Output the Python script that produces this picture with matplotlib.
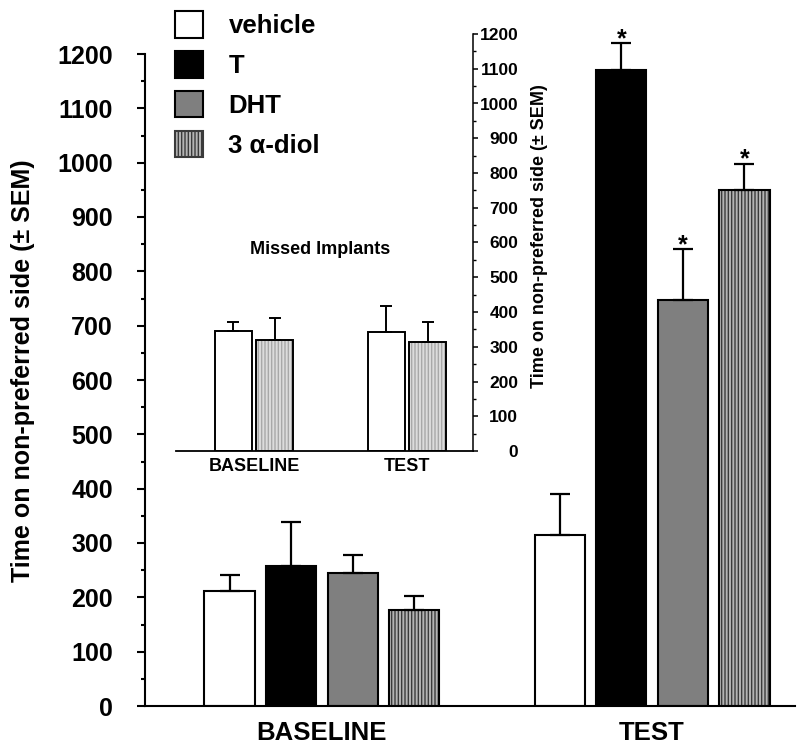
import numpy as np
import matplotlib
matplotlib.use('Agg')
import matplotlib.pyplot as plt
from matplotlib.patches import Patch
from matplotlib.ticker import MultipleLocator

plt.rcParams['font.family'] = ['Liberation Sans', 'DejaVu Sans']
plt.rcParams['font.weight'] = 'bold'
plt.rcParams['axes.labelweight'] = 'bold'
plt.rcParams['axes.titleweight'] = 'bold'
plt.rcParams['hatch.linewidth'] = 1.0

# data: main panel (hippocampal implants)
groups = ['BASELINE', 'TEST']
treatments = ['vehicle', 'T', 'DHT', '3 α-diol']
means = {'vehicle': [212, 315],
         'T': [258, 1170],
         'DHT': [244, 747],
         '3 α-diol': [176, 950]}
sems = {'vehicle': [30, 75],
        'T': [80, 50],
        'DHT': [34, 94],
        '3 α-diol': [27, 48]}
signif = {'vehicle': [False, False],
          'T': [False, True],
          'DHT': [False, True],
          '3 α-diol': [False, True]}

# data: inset (missed implants)
inset_treatments = ['vehicle', '3 α-diol']
inset_means = {'vehicle': [346, 342], '3 α-diol': [320, 314]}
inset_sems = {'vehicle': [25, 75], '3 α-diol': [63, 57]}

ylabel = 'Time on non-preferred side (± SEM)'

# styles
face = {'vehicle': 'white', 'T': 'black', 'DHT': '#7f7f7f', '3 α-diol': '#b4b4b4'}
hatchcol = {'3 α-diol': '#3a3a3a'}

fig = plt.figure(figsize=(8, 7.53), dpi=100)
W, H = 800., 753.

### main axes
ax = fig.add_axes([145/W, (H-706)/H, 650/W, 652/H])
ax.set_xlim(-0.536, 1.433)
ax.set_ylim(0, 1200)
x = np.arange(len(groups))
offsets = [-0.28, -0.093, 0.093, 0.28]
width = 0.152

for off, tr in zip(offsets, treatments):
    xs = x + off
    if tr in hatchcol:
        ax.bar(xs, means[tr], width, color=face[tr], edgecolor=hatchcol[tr],
               hatch='|||||', linewidth=0, zorder=2)
        ax.bar(xs, means[tr], width, fill=False, edgecolor='black',
               linewidth=1.5, zorder=3)
    else:
        ax.bar(xs, means[tr], width, color=face[tr], edgecolor='black',
               linewidth=1.5, zorder=2)
    eb = ax.errorbar(xs, means[tr], yerr=[np.zeros(len(xs)), sems[tr]],
                     fmt='none', ecolor='black', elinewidth=1.6,
                     capsize=7, capthick=1.6, zorder=4)
    for a in list(eb[1]) + list(eb[2]):
        a.set_clip_on(False)
    for xi, m, s, sig in zip(xs, means[tr], sems[tr], signif[tr]):
        if sig:
            ax.annotate('*', (xi, m + s), xytext=(0, 3), textcoords='offset points',
                        ha='center', va='center', fontsize=18, annotation_clip=False)

for side in ['top', 'right']:
    ax.spines[side].set_visible(False)
ax.spines['left'].set_linewidth(1.5)
ax.spines['bottom'].set_linewidth(1.5)
ax.yaxis.set_major_locator(MultipleLocator(100))
ax.yaxis.set_minor_locator(MultipleLocator(50))
ax.tick_params(axis='y', which='major', direction='out', length=6, width=1.5,
               pad=17, labelsize=18)
ax.tick_params(axis='y', which='minor', direction='out', length=3, width=1.5)
ax.set_xticks(x)
ax.set_xticklabels(groups)
ax.tick_params(axis='x', length=0, pad=11, labelsize=18.5)
ax.set_ylabel(ylabel, fontsize=18)
ax.yaxis.label.set_va('center')
ax.yaxis.set_label_coords(-0.188, 0.514)

handles = []
for tr in treatments:
    if tr in hatchcol:
        handles.append(Patch(facecolor=face[tr], edgecolor=hatchcol[tr],
                             hatch='|||||', linewidth=1.5))
    else:
        handles.append(Patch(facecolor=face[tr], edgecolor='black', linewidth=1.5))
leg = fig.legend(handles, treatments, loc='upper left',
                 bbox_to_anchor=(175/W, 1 - 11/H), frameon=False, borderpad=0,
                 borderaxespad=0, fontsize=18.5, handlelength=1.08,
                 handleheight=1.22, labelspacing=0.5, handletextpad=1.0)

### inset: missed implants
ins = fig.add_axes([176/W, (H-451)/H, (473-176)/W, (451-34)/H])
ins.patch.set_alpha(0)
ins.set_xlim(-0.51, 1.431)
ins.set_ylim(0, 1200)
ins_offsets = [-0.135, 0.135]
ins_width = 0.24
ins_face = {'vehicle': 'white', '3 α-diol': '#dcdcdc'}
for off, tr in zip(ins_offsets, inset_treatments):
    xs = x + off
    if tr == '3 α-diol':
        ins.bar(xs, inset_means[tr], ins_width, color=ins_face[tr],
                edgecolor='#a8a8a8', hatch='|||||', linewidth=0, zorder=2)
        ins.bar(xs, inset_means[tr], ins_width, fill=False, edgecolor='black',
                linewidth=1.4, zorder=3)
    else:
        ins.bar(xs, inset_means[tr], ins_width, color=ins_face[tr],
                edgecolor='black', linewidth=1.4, zorder=2)
    ins.errorbar(xs, inset_means[tr], yerr=[np.zeros(len(xs)), inset_sems[tr]],
                 fmt='none', ecolor='black', elinewidth=1.4, capsize=4.5,
                 capthick=1.4, zorder=4)

for side in ['top', 'left']:
    ins.spines[side].set_visible(False)
ins.spines['right'].set_linewidth(1.1)
ins.spines['bottom'].set_linewidth(1.3)
ins.yaxis.tick_right()
ins.yaxis.set_major_locator(MultipleLocator(100))
ins.yaxis.set_minor_locator(MultipleLocator(50))
ins.tick_params(axis='y', which='major', direction='out', length=3.6, width=1.1,
                pad=29, labelsize=12.5)
ins.tick_params(axis='y', which='minor', direction='out', length=2.2, width=1.0)
for t in ins.yaxis.get_major_ticks():
    t.label2.set_ha('right')
ins.set_xticks(x)
ins.set_xticklabels(groups)
ins.tick_params(axis='x', length=0, pad=5, labelsize=13)
ins.set_title('Missed Implants', fontsize=13, x=(320-176)/297., y=(451-258)/417.,
              va='center')
ins.yaxis.set_label_position('right')
ins.set_ylabel(ylabel, fontsize=13, rotation=90)
ins.yaxis.label.set_va('center')
ins.yaxis.set_label_coords((540-176)/297., 0.516)

fig.savefig('out.png', dpi=100)
